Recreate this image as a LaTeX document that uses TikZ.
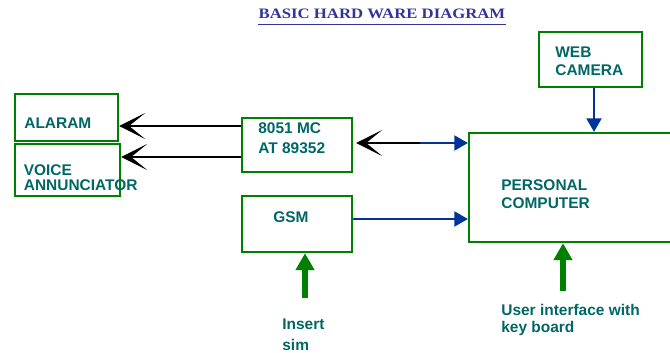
\documentclass[tikz,border=0pt]{standalone}
\usepackage{fontspec}
\setmainfont{Liberation Sans}
\newfontfamily\titlefont[FakeStretch=1.16]{Liberation Serif}
\usetikzlibrary{arrows.meta, positioning, calc}
\definecolor{boxgreen}{RGB}{0,128,0}
\definecolor{labelteal}{RGB}{0,102,102}
\definecolor{linkblue}{RGB}{0,51,153}
\definecolor{titleblue}{RGB}{51,51,153}

\begin{document}
\begin{tikzpicture}[
		unit/.style={draw=boxgreen, line width=1.3pt, inner sep=0pt},
		blocktxt/.style={font=\fontsize{8.8}{#1}\selectfont\bfseries, text=labelteal, anchor=base west, align=left, inner sep=0pt},
		blocktxt/.default=10,
		mcline/.style={draw=black, line width=1.2pt, -{Stealth[length=0.52cm, width=0.52cm, inset=0.32cm]}},
		pcline/.style={draw=linkblue, line width=1.1pt, -{Triangle[length=0.27cm, width=0.3cm]}},
		inarrow/.style={draw=boxgreen, line width=3.4pt, -{Triangle[length=0.34cm, width=0.36cm]}}
	]
	\useasboundingbox (0,0) rectangle (13.4,7.04);

	% Title
	\node[font=\titlefont\fontsize{8.2}{9}\selectfont\bfseries, text=titleblue, anchor=base, inner sep=0pt] (title) at (7.64,6.67) {BASIC HARD WARE DIAGRAM};
	\draw[titleblue, line width=1.1pt] ([yshift=-0.12cm]title.base west) -- ([yshift=-0.12cm]title.base east);

	% Blocks
	\node[unit, minimum width=2.06cm, minimum height=0.94cm] (alarm) at (1.33,4.69) {};
	\node[unit, minimum width=2.10cm, minimum height=1.04cm] (voice) at (1.35,3.64) {};
	\node[unit, minimum width=2.2cm, minimum height=1.08cm] (mc) at (5.94,4.14) {};
	\node[unit, minimum width=2.2cm, minimum height=1.12cm] (gsm) at (5.94,2.56) {};
	\node[unit, minimum width=4.12cm, minimum height=2.18cm] (pc) at (11.44,3.29) {};
	\node[unit, minimum width=2.06cm, minimum height=1.10cm] (cam) at (11.81,5.85) {};

	% Block texts (multi-line ones sit on their last line)
	\node[blocktxt] (alarmtxt) at (0.48,4.47) {ALARAM};
	\node[blocktxt=8.5] (voicetxt) at (0.47,3.24) {VOICE\\ANNUNCIATOR};
	\node[blocktxt=11.4] (mctxt) at (5.16,3.96) {8051 MC\\AT 89352};
	\node[blocktxt] (gsmtxt) at (5.46,2.60) {GSM};
	\node[blocktxt=10.8] (camtxt) at (11.10,5.52) {WEB\\CAMERA};
	\node[blocktxt=9.7] (pctxt) at (10.02,2.88) {PERSONAL\\COMPUTER};
	\node[blocktxt=11.4] (simtxt) at (5.64,0.04) {Insert\\sim};
	\node[blocktxt=9.4] (keytxt) at (10.02,0.40) {User interface with\\key board};

	% Controller outputs
	\draw[mcline] ([yshift=0.38cm]mc.west) -- ([yshift=0.38cm]mc.west -| alarm.east);
	\draw[mcline] ([yshift=-0.24cm]mc.west) -- ([yshift=-0.24cm]mc.west -| voice.east);

	% Controller <-> PC
	\coordinate (split) at (8.40,4.18);
	\draw[mcline, shorten >=0.06cm] (split) -- (split -| mc.east);
	\draw[pcline] (split) -- (split -| pc.west);

	% GSM and camera to PC
	\draw[pcline] ([yshift=0.1cm]gsm.east) -- ([yshift=0.1cm]gsm.east -| pc.west);
	\draw[pcline] ([xshift=0.07cm]cam.south) -- ([xshift=0.07cm]cam.south |- pc.north);

	% Inputs
	\coordinate (sim) at (6.10,1.08);
	\draw[inarrow] (sim) -- (sim |- gsm.south);
	\coordinate (keys) at (11.26,1.22);
	\draw[inarrow] (keys) -- (keys |- pc.south);
\end{tikzpicture}
\end{document}
